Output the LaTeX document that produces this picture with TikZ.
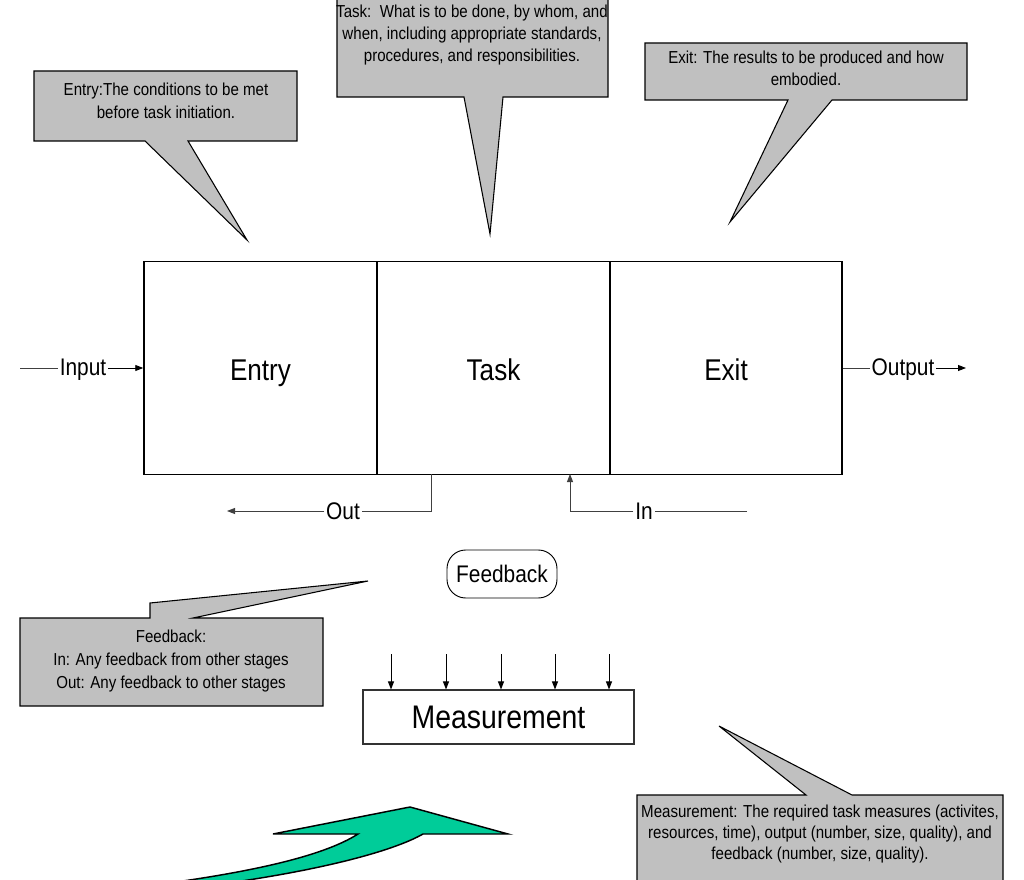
\documentclass[tikz,border=0pt]{standalone}
\usepackage{fontspec}
\setmainfont{Liberation Sans}[FakeStretch=0.87]
\usetikzlibrary{arrows.meta}
\definecolor{callgray}{RGB}{192,192,192}
\definecolor{arrowgreen}{RGB}{0,204,153}
\begin{document}
\begin{tikzpicture}[x=0.75pt,y=-0.75pt,
  stage/.style={draw,line width=1.1pt,minimum width=174.75pt,minimum height=159.75pt,inner sep=0pt,text height=18pt,text depth=0pt,font=\fontsize{22.5}{27}\selectfont},
  lbl/.style={inner sep=1.2pt,text height=12pt,text depth=0pt,font=\fontsize{18}{21}\selectfont},
  calltext/.style={align=center,inner sep=0pt,font=\fontsize{13}{17}\selectfont},
  callshape/.style={fill=callgray,draw=black,line width=0.8pt,line join=miter},
  thinline/.style={line width=0.7pt,draw=black!75},
  tipped/.style={-{Triangle[length=6pt,width=4.5pt]}},
]
\useasboundingbox (0,0) rectangle (1024,880);

% ---- callout shapes ----
\path[callshape] (34,71) -- (297,71) -- (297,141) -- (188,141) -- (247,240) -- (145,141) -- (34,141) -- cycle;
\path[callshape] (337,-1) -- (608,-1) -- (608,97) -- (503,97) -- (490,234) -- (464,97) -- (337,97) -- cycle;
\path[callshape] (645,43) -- (967,43) -- (967,100) -- (832,100) -- (730,222) -- (788,100) -- (645,100) -- cycle;
\path[callshape] (20,618) -- (150,618) -- (150,603) -- (368,581) -- (193,618) -- (323,618) -- (323,706) -- (20,706) -- cycle;
\path[callshape] (637,795) -- (806,795) -- (719,726) -- (852,795) -- (1003,795) -- (1003,881) -- (637,881) -- cycle;

% ---- callout texts ----
\node[calltext] (entrynote) at (166,101) {Entry:The conditions to be met\\before task initiation.};
\node[calltext,font=\fontsize{13}{16.5}\selectfont] (tasknote) at (472,35) {Task:\ \ What is to be done, by whom, and\\when, including appropriate standards,\\procedures, and responsibilities.};
\node[calltext,font=\fontsize{13}{16.5}\selectfont] (exitnote) at (806,68) {Exit: The results to be produced and how\\embodied.};
\node[calltext,font=\fontsize{13}{17.5}\selectfont] (fbnote) at (171,661) {Feedback:\\In: Any feedback from other stages\\Out: Any feedback to other stages};
\node[calltext,font=\fontsize{13}{15.75}\selectfont] (measnote) at (820,834) {Measurement: The required task measures (activites,\\resources, time), output (number, size, quality), and\\feedback (number, size, quality).};

% ---- main stages ----
\node[stage] (entry) at (260.5,368) {Entry};
\node[stage] (task) at (493.5,368) {Task};
\node[stage,minimum width=174pt] (exit) at (726,368) {Exit};

% ---- input / output ----
\coordinate (instart) at (20,368);
\node[lbl] (input) at (83,368) {Input};
\draw[thinline] (instart) -- (input);
\draw[thinline,draw=black,tipped] (input) -- (entry.west);
\node[lbl] (output) at (903,368) {Output};
\coordinate (outend) at (966,368);
\draw[thinline] (exit.east) -- (output);
\draw[thinline,draw=black,tipped] (output) -- (outend);

% ---- feedback out / in ----
\coordinate (outtop) at (431,474);
\coordinate (outcorner) at (431,511);
\node[lbl] (outlbl) at (343,511) {Out};
\coordinate (outarrow) at (227,511);
\draw[thinline] (outtop) -- (outcorner) -- (outlbl);
\draw[thinline,tipped] (outlbl) -- (outarrow);

\coordinate (instartb) at (747,511);
\node[lbl] (inlbl) at (644,511) {In};
\coordinate (incorner) at (570,511);
\coordinate (intop) at (570,474);
\draw[thinline] (instartb) -- (inlbl);
\draw[thinline,tipped] (inlbl) -- (incorner) -- (intop);

% ---- feedback and measurement ----
\node[draw,line width=0.7pt,rounded corners=14pt,minimum width=82.5pt,minimum height=36pt,inner sep=0pt,font=\fontsize{18}{21}\selectfont] (feedback) at (502,574) {Feedback};

\node[draw=black!80,line width=0.8pt,minimum width=203.25pt,minimum height=40.5pt,inner sep=0pt,font=\fontsize{24.5}{28}\selectfont] (meas) at (498.5,717) {Measurement};
\foreach \i/\x in {1/391,2/446,3/501,4/555,5/609}{
  \coordinate (m\i) at (\x,654);
  \draw[line width=0.7pt,tipped] (m\i) -- (m\i |- meas.north);
}

% ---- green arrow ----
\path[fill=arrowgreen,draw=black,line width=1.1pt,line join=miter]
  (358,834) -- (273,834) -- (410,807) -- (508,834) -- (423,834)
  .. controls (395,850) and (330,868) .. (235,882) -- (176,882)
  .. controls (260,870) and (325,855) .. (358,834) -- cycle;
\end{tikzpicture}
\end{document}
